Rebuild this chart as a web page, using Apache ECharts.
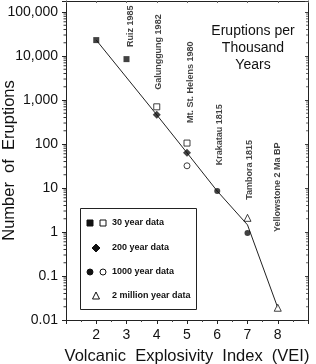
<!DOCTYPE html>
<html>
<head>
<meta charset="utf-8">
<script src="https://cdn.jsdelivr.net/npm/echarts@6/dist/echarts.min.js"></script>
<style>
html, body { margin: 0; padding: 0; background: #fff; }
#chart { width: 316px; height: 364px; }
</style>
</head>
<body>
<div id="chart"></div>
<script>
// VEI vs number of eruptions per thousand years
var yr30Filled = [[2, 23000], [3, 8500]];
var yr30Open = [[4, 700], [5, 105]];
var yr200 = [[4, 460], [5, 63]];
var yr1000Filled = [[6, 8.5], [7, 0.95]];
var yr1000Open = [[5, 32]];
var yr2M = [[7, 2.1], [8, 0.019]];
var trendLine = [[2, 23000], [4, 460], [5, 63], [6, 8.5], [7, 1.45], [8, 0.019]];

var xMin = 1, xMax = 9;
var yMin = 0.01, yMax = 178000;

// annotations: text, and the point (vei, count) where the rotated text starts
var eventNames = ['Ruiz 1985', 'Galunggung 1982', 'Mt. St. Helens 1980', 'Krakatau 1815', 'Tambora 1815', 'Yellowstone 2 Ma BP'];
var eventX = [3.12, 4.07, 5.1, 6.06, 7.08, 8.0];
var eventY = [16000, 1700, 300, 33, 5.4, 1.0];

var minorTicks = [];
for (var e = -2; e <= 5; e++) {
    for (var k = 2; k <= 9; k++) {
        var v = k * Math.pow(10, e);
        if (v < yMax) minorTicks.push(v);
    }
}

var txtFont = 'Liberation Sans, Arial, sans-serif';

function isDecade(v) {
    var l = Math.log10(v);
    return Math.abs(l - Math.round(l)) < 1e-6;
}
function yLabel(v) {
    if (!isDecade(v)) return '';
    var l = Math.round(Math.log10(v));
    if (l < 0) return (Math.pow(10, l)).toFixed(-l);
    return Math.pow(10, l).toString().replace(/\B(?=(\d{3})+(?!\d))/g, ',');
}

function scatter(data, symbol, size, filled) {
    return {
        type: 'scatter',
        data: data,
        symbol: symbol,
        symbolSize: size,
        silent: true,
        itemStyle: {
            color: filled ? '#111' : '#fff',
            borderColor: '#111',
            borderWidth: filled ? 0 : 1
        },
        z: 5
    };
}

var chart = echarts.init(document.getElementById('chart'));

var graphics = [];
// legend box
graphics.push({
    type: 'rect', left: 80, top: 208, z: 10,
    shape: { width: 116, height: 101 },
    style: { fill: '#fff', stroke: '#222', lineWidth: 1 }
});
var legRows = [
    { y: 223, text: '30 year data', marks: [['rect', 90, true], ['rect', 103, false]] },
    { y: 248, text: '200 year data', marks: [['diamond', 96, true]] },
    { y: 272, text: '1000 year data', marks: [['circle', 90, true], ['circle', 103, false]] },
    { y: 296, text: '2 million year data', marks: [['triangle', 96, false]] }
];
legRows.forEach(function (r) {
    r.marks.forEach(function (m) {
        var st = { fill: m[2] ? '#111' : '#fff', stroke: '#111', lineWidth: 1 };
        if (m[0] === 'circle') {
            graphics.push({ type: 'circle', z: 11, shape: { cx: m[1], cy: r.y, r: 3 }, style: st });
        } else {
            var pts = m[0] === 'rect' ? [[-3, -3], [3, -3], [3, 3], [-3, 3]]
                : m[0] === 'diamond' ? [[0, -4], [4, 0], [0, 4], [-4, 0]]
                : [[0, -4], [3.5, 3], [-3.5, 3]];
            graphics.push({
                type: 'polygon', z: 11,
                shape: { points: pts.map(function (p) { return [p[0] + m[1], p[1] + r.y]; }) },
                style: st
            });
        }
    });
    graphics.push({
        type: 'text', x: 112, y: r.y, z: 11,
        style: { text: r.text, font: 'bold 9px ' + txtFont, fill: '#111', textVerticalAlign: 'middle' }
    });
});
// title block
['Eruptions per', 'Thousand', 'Years'].forEach(function (t, i) {
    graphics.push({
        type: 'text', x: 253, y: 31 + i * 17, z: 11,
        style: { text: t, font: '14px ' + txtFont, fill: '#111', textAlign: 'center', textVerticalAlign: 'middle' }
    });
});

chart.setOption({
    backgroundColor: '#fff',
    animation: false,
    grid: { left: 66, right: 8, top: 1, bottom: 44, outerBoundsMode: 'none', containLabel: false },
    xAxis: [{
        type: 'value', min: xMin, max: xMax, interval: 1,
        name: 'Volcanic  Explosivity  Index  (VEI)',
        nameLocation: 'middle', nameGap: 28, nameMoveOverlap: false,
        nameTextStyle: { fontFamily: txtFont, fontSize: 16.5, color: '#111' },
        axisLine: { lineStyle: { color: '#222' } },
        axisTick: { length: 4, lineStyle: { color: '#222' } },
        minorTick: { show: true, splitNumber: 2, length: 2, lineStyle: { color: '#444' } },
        axisLabel: {
            fontFamily: txtFont, fontSize: 14, color: '#111', margin: 8,
            formatter: function (v) { return (v > xMin && v < xMax) ? v : ''; }
        },
        splitLine: { show: false }
    }, {
        type: 'value', position: 'top', min: xMin, max: xMax, interval: 1,
        axisLine: { lineStyle: { color: '#222' } },
        axisTick: { inside: true, length: 2, lineStyle: { color: '#666' } },
        axisLabel: { show: false },
        splitLine: { show: false }
    }],
    yAxis: [{
        type: 'log', logBase: 10, min: yMin, max: yMax,
        name: 'Number  of  Eruptions',
        nameLocation: 'middle', nameGap: 48, nameMoveOverlap: false,
        nameTextStyle: { fontFamily: txtFont, fontSize: 16.5, color: '#111' },
        axisLine: { show: true, lineStyle: { color: '#222' } },
        axisTick: { length: 4, lineStyle: { color: '#222' } },
        axisLabel: { fontFamily: txtFont, fontSize: 14, color: '#111', margin: 8, formatter: yLabel },
        splitLine: { show: false }
    }, {
        type: 'log', logBase: 10, min: yMin, max: yMax, position: 'right',
        axisLine: { show: true, lineStyle: { color: '#222' } },
        axisTick: { inside: true, length: 3, lineStyle: { color: '#444' } },
        axisLabel: { show: false },
        splitLine: { show: false }
    }],
    graphic: graphics,
    series: [
        {
            type: 'line', data: trendLine, symbol: 'none', silent: true,
            lineStyle: { color: '#222', width: 1 }, z: 3
        },
        scatter(yr30Filled, 'rect', 6, true),
        scatter(yr30Open, 'rect', 6, false),
        scatter(yr200, 'diamond', 8, true),
        scatter(yr1000Filled, 'circle', 6, true),
        scatter(yr1000Open, 'circle', 6, false),
        scatter(yr2M, 'triangle', 7, false),
        {
            // log minor ticks on left and right axes
            type: 'custom', silent: true, clip: false,
            data: minorTicks.map(function (v) { return [xMin, v]; }),
            encode: { x: 0, y: 1 },
            renderItem: function (params, api) {
                var a = api.coord([xMin, api.value(1)]);
                var b = api.coord([xMax, api.value(1)]);
                return {
                    type: 'group', children: [
                        { type: 'line', shape: { x1: a[0] - 2.5, y1: a[1], x2: a[0], y2: a[1] }, style: { stroke: '#333', lineWidth: 1 } },
                        { type: 'line', shape: { x1: b[0] - 2, y1: b[1], x2: b[0], y2: b[1] }, style: { stroke: '#666', lineWidth: 1 } }
                    ]
                };
            }
        },
        {
            type: 'scatter', silent: true, symbolSize: 0,
            itemStyle: { color: 'transparent' },
            data: eventNames.map(function (n, i) { return { value: [eventX[i], eventY[i]], name: n }; }),
            label: {
                show: true, position: 'inside', rotate: 90, align: 'left', verticalAlign: 'middle',
                formatter: '{b}', fontFamily: txtFont, fontWeight: 'bold', fontSize: 9, color: '#111'
            }
        }
    ]
});
</script>
</body>
</html>
